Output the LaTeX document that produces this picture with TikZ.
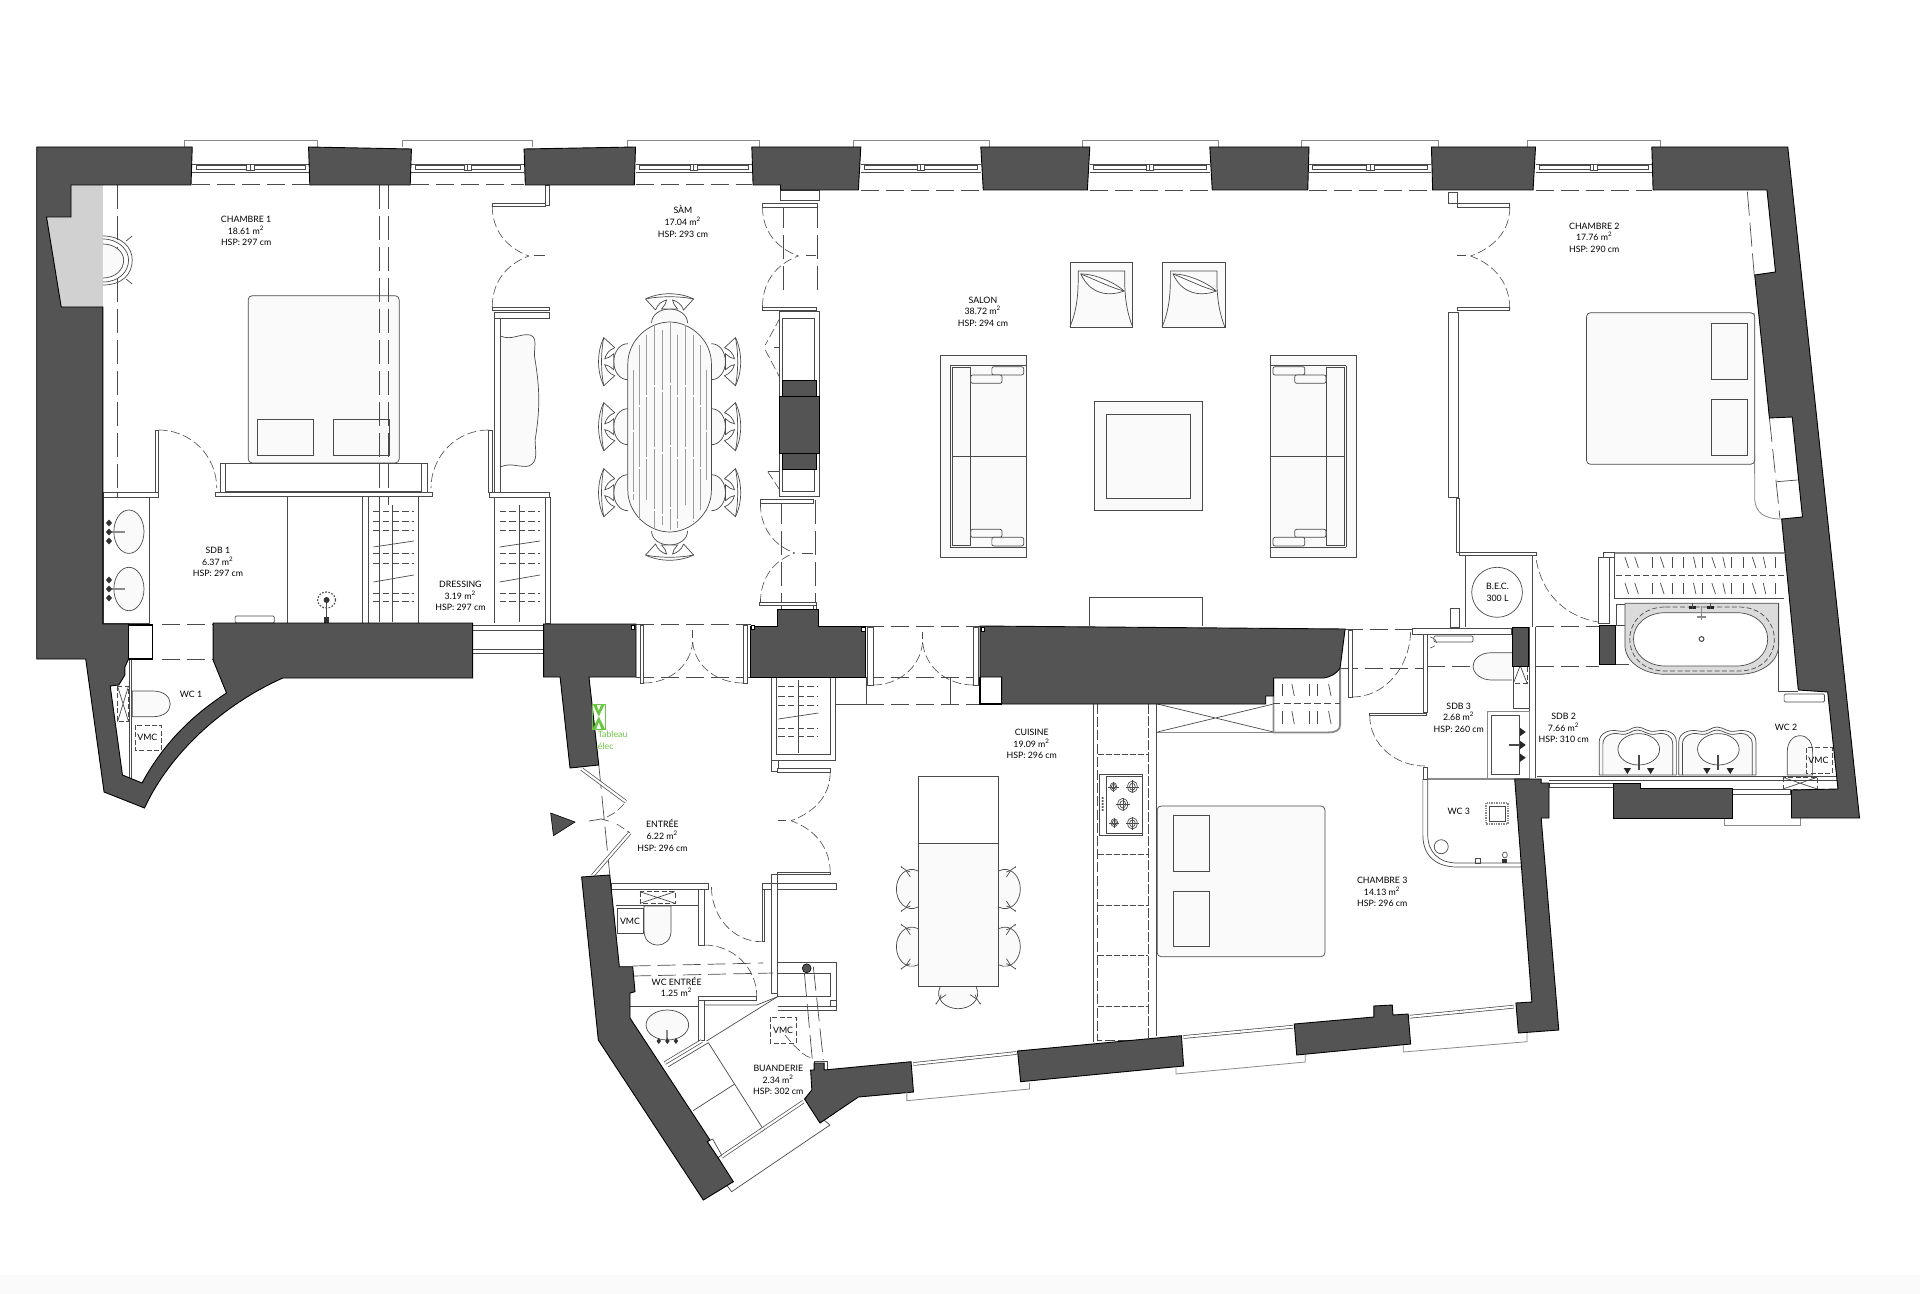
\documentclass[tikz,border=0pt]{standalone}
\usepackage{fontspec}
\setmainfont{Lato}
\usetikzlibrary{calc}
\definecolor{wallc}{HTML}{545454}
\definecolor{linec}{HTML}{4A4A4A}
\definecolor{greyl}{HTML}{8A8A8A}
\definecolor{furn}{HTML}{FAFAFA}
\definecolor{greenc}{HTML}{6CC644}
\tikzset{
 wall/.style={fill=wallc,draw=black,line width=.45pt,line join=miter},
 ln/.style={draw=linec,line width=.35pt},
 hv/.style={draw=linec,line width=.5pt},
 gl/.style={draw=greyl,line width=.4pt},
 gt/.style={draw=greyl,line width=.9pt},
 fu/.style={draw=linec,line width=.35pt,fill=furn},
 wh/.style={draw=linec,line width=.35pt,fill=white},
 dr/.style={draw=linec,line width=.3pt,dash pattern=on 4.5pt off 1.8pt},
 ld/.style={draw=linec,line width=.35pt,dash pattern=on 9pt off 3.5pt},
 lv/.style={draw=linec,line width=.35pt,dash pattern=on 12pt off 3.5pt},
 sd/.style={draw=linec,line width=.35pt,dash pattern=on 2.5pt off 1.2pt},
 obwin/.style={draw=linec,line width=.35pt,double=white,double distance=1.1pt},
 lab/.style={align=center,font=\fontsize{4.4}{5.8}\selectfont,text=black,inner sep=0pt},
 truepx/.style={x={(0.5pt,0pt)},y={(0pt,-0.5pt)}}
}
\newcommand{\topwin}[4]{%
 \pgfmathsetmacro{\wm}{(#1+#2)/2}%
 \draw[gl] (#3,147) -- (#3,140) -- (#4,140) -- (#4,147);
 \draw[ln] (#1,164) -- (#2,164) (#1,172.5) -- (#2,172.5);
 \draw[ln] (#1+3,165.5) rectangle (\wm-3,169.5) (\wm+3,165.5) rectangle (#2-3,169.5) (\wm-3,164) rectangle (\wm+3,170);
 \draw[ln] (\wm,164) -- (\wm,170);
}
\newcommand{\obwin}[2]{%
 \draw[obwin] #1 -- #2;
 \draw[obwin] ($#1!.48!#2$) -- ($#1!.52!#2$);
}
\newcommand{\chairbody}{%
  \draw[fu] (0,-18) .. controls (8,-18) and (14,-10) .. (14,0) .. controls (14,10) and (8,18) .. (0,18);
  \draw[wh] (13,-14) -- (24,-24) .. controls (31,-10) and (31,10) .. (24,24) -- (13,14) .. controls (19,12) and (22,7) .. (23,3) .. controls (20,3) and (18,5) .. (14,8) -- (14,-8) .. controls (18,-5) and (20,-3) .. (23,-3) .. controls (22,-7) and (19,-12) .. (13,-14);
  \draw[ln] (24,-24) .. controls (27,-10) and (27,10) .. (24,24);
}
\newcommand{\kchairbody}{%
  \draw[fu] (0,-18) .. controls (13,-24) and (22,-12) .. (22,0) .. controls (22,12) and (13,24) .. (0,18);
  \draw[ln] (8,-17) .. controls (12,-18) and (14,-20) .. (17,-22) (8,17) .. controls (12,18) and (14,20) .. (17,22);
  \draw[ln] (8,-12) -- (12,-18) (8,12) -- (12,18);
  \fill[linec] (17,-22) circle[radius=.8] (17,22) circle[radius=.8];
}
\newcommand{\chairS}[3]{\begin{scope}[shift={(#1,#2)},truepx,xscale=#3]\chairbody\end{scope}}
\newcommand{\chairV}[3]{\begin{scope}[shift={(#1,#2)},truepx,rotate=#3]\chairbody\end{scope}}
\newcommand{\kchair}[3]{\begin{scope}[shift={(#1,#2)},truepx,xscale=#3]\kchairbody\end{scope}}
\newcommand{\kchairV}[3]{\begin{scope}[shift={(#1,#2)},truepx,rotate=#3]\kchairbody\end{scope}}
\newcommand{\armchair}[1]{%
 \begin{scope}[xshift=#1*0.61224pt]
  \draw[fu] (873.7,262) rectangle (925,327);
  \draw[ln] (880.5,271) -- (918.5,271) -- (918.5,280) .. controls (918.5,300) and (921,315) .. (925,327);
  \draw[ln] (880.5,271) -- (880.5,280) .. controls (880.5,300) and (878,315) .. (873.7,327);
  \draw[wh] (882.7,274) .. controls (896,274) and (912,284) .. (918,291) .. controls (905,297) and (890,294) .. (882.7,274) -- cycle;
  \draw[ln] (882.7,274) .. controls (895,280) and (908,288) .. (918,291);
 \end{scope}}
\newcommand{\sofa}{%
  \draw[fu] (768,355.7) rectangle (838,557);
  \draw[ln] (776,365.7) -- (838,365.7) (776,547) -- (838,547) (776,365.7) -- (776,547);
  \draw[ln] (777.5,367.5) rectangle (792.7,545);
  \draw[ln] (777.5,456) -- (838,456);
  \draw[hv] (777.5,456) -- (792.7,456);
  \draw[fu,rounded corners=1pt] (810,366.7) rectangle (836,375);
  \draw[fu,rounded corners=1pt] (792.7,375) rectangle (818.3,383.3);
  \draw[fu,rounded corners=1pt] (792.7,529.3) rectangle (818.3,537.3);
  \draw[fu,rounded corners=1pt] (810,537.3) rectangle (836,546);
}
\newcommand{\hangers}[4]{% x1 x2 xc list
 \draw[ln] (#3,505) -- (#3,622);
 \foreach \yy in {#4}{\draw[sd,dash pattern=on 3.2pt off 1.6pt] (#1,\yy) -- (#2,\yy);}
 \draw[ln] (#1,547) -- (#2,541) (#1,582) -- (#2,575);
}
\begin{document}
\begin{tikzpicture}[x=0.61224pt,y=-0.5pt]
\useasboundingbox (0,0) rectangle (1568,1294);
\fill[white] (0,0) rectangle (1568,1294);
\fill[black!2] (0,1275) rectangle (1568,1294);

%%%%% Top windows and the dashed line of the openings
\topwin{157}{252}{150.7}{259}
\topwin{336}{428}{329}{434.7}
\topwin{519}{614}{512}{620}
\topwin{703}{801}{697}{807.7}
\topwin{890}{988}{883.7}{995}
\topwin{1069}{1169}{1062.6}{1175}
\topwin{1254}{1349}{1247}{1356}
\foreach \a/\b in {157/252,336/428,519/614}{\draw[ld] (\a,184.6) -- (\b,184.6);}
\foreach \a/\b in {703/801,890/988,1069/1169,1254/1349}{\draw[ld] (\a,190.5) -- (\b,190.5);}

%%%%% Chambre 1
\draw[lv] (96,185) -- (96,497);
\fill[black!18] (58,185) -- (84,185) -- (84,307) -- (50,307) -- (38,217) -- (58,217) -- cycle;
\draw[ln] (84,236) .. controls (100,236) and (108,248) .. (108,260) .. controls (108,274) and (100,285) .. (84,285);
\draw[ln] (84,239) .. controls (97,239) and (105,250) .. (105,260) .. controls (105,272) and (97,282) .. (84,282);
\draw[fu] (84,244) .. controls (94,244) and (101,252) .. (101,260) .. controls (101,270) and (94,278) .. (84,278);
\draw[ln] (103,241) -- (108,236) (103,279) -- (108,284);
\draw[fu,rounded corners=2pt] (202.7,295.7) rectangle (326,463);
\draw[fu] (210,419) rectangle (256,455);
\draw[fu] (272,419) rectangle (317.7,455);
\draw[lv] (309.5,185) -- (309.5,505) (317,185) -- (317,505);
% doors of chambre 1
\draw[wh] (127,430) rectangle (129.5,492);
\draw[wh] (399,430) rectangle (401.7,492);
\draw[dr] (129.5,430) to[out=0,in=90] (177,488);
\draw[dr] (399,430) to[out=180,in=90] (352,488);
\draw[wh] (84,492) rectangle (129,497);
\draw[ln] (96,492) -- (96,497);
\draw[wh] (176,492) rectangle (353,496.7);
\draw[ln] (180,463) -- (349,463) -- (349,492) (180,463) -- (180,492);
\draw[hv] (184.5,463) -- (184.5,491.7) -- (344.5,491.7) -- (344.5,463);
\draw[wh] (400,492) rectangle (449,497);
\draw[wh] (404,312) rectangle (408.7,492);
\draw[wh] (404,312) rectangle (449,318);
\draw[fu] (408.7,336) .. controls (418,341) and (425,333) .. (433,335) .. controls (440,338) and (435,350) .. (437,360) .. controls (441,390) and (441,410) .. (437,440) .. controls (437,450) and (440,462) .. (432,466) .. controls (425,468) and (417,462) .. (408.7,467) -- cycle;
% double door chambre 1 / sam
\draw[wh] (402,203) rectangle (445,206);
\draw[wh] (445,185) rectangle (449,205);
\draw[wh] (402,307) rectangle (449,310);
\draw[dr] (402,206) to[out=-90,in=160] (432,256);
\draw[dr] (402,307) to[out=90,in=200] (432,256);
\draw[hv] (436,256) -- (445,256);
% sdb 1
\draw[ln] (234.3,497) -- (234.3,623) (296,497) -- (296,623) (301,497) -- (301,623) (342,497) -- (342,623) (404,497) -- (404,623);
\draw[wh,rounded corners=.6pt] (192,616) rectangle (224,623);
\draw[ln,dash pattern=on .8pt off .8pt,line width=.6pt] (266.7,600) circle[x radius=7.3,y radius=8];
\draw[hv] (266.7,600) -- (266.7,620);
\fill[black!80] (266.7,600) circle[radius=1.5pt];
\fill[black!80] (264.5,617) rectangle (269,623);
% dressing hangers
\hangers{305}{338}{320.7}{511.7,521.7,530.7,553.3,563.3,593,601.7}
\hangers{408}{441}{424.3}{511.7,521.7,530.7,553.3,563.3,593,601.7}
\draw[ln] (310,505) -- (310,622);
\draw[wh] (445,497) rectangle (449.3,623);
\draw[wh] (386,625) rectangle (444,630);
\draw[wh] (386,649) rectangle (444,653);
%%%%% Sam
\chairS{512.7}{361.7}{-1}\chairS{512.7}{426.7}{-1}\chairS{512.7}{492.7}{-1}
\chairS{581}{361.7}{1}\chairS{581}{426.7}{1}\chairS{581}{492.7}{1}
\chairV{546.8}{323}{90}\chairV{546.8}{531}{-90}
\draw[fu] (512.7,364) .. controls (512.7,340) and (530,322) .. (546.8,322) .. controls (564,322) and (581,340) .. (581,364) -- (581,490) .. controls (581,514) and (564,532) .. (546.8,532) .. controls (530,532) and (512.7,514) .. (512.7,490) -- cycle;
\foreach \xx/\ya/\yb in {517/370/500,522/345/520,528/335/500,534/325/528,541/330/525,547/323/530,553/335/528,560/325/505,566/335/522,572/345/510,577/370/480}{\draw[draw=black!38,line width=.25pt,dash pattern=on 30pt off 1pt] (\xx,\ya) -- (\xx,\yb);}
% cupboards right of sam
\draw[lv] (640,204) -- (640,296) (667.7,204) -- (667.7,296);
\draw[lv] (638,500) -- (638,623) (666,500) -- (666,623);
\draw[wh] (622.7,203) rectangle (667.7,207);
\draw[wh] (637,190) rectangle (669,200);
\draw[wh] (622.7,307) rectangle (667,310);
\draw[dr] (622.7,207) to[out=-90,in=160] (652,256);
\draw[dr] (622.7,307) to[out=90,in=200] (652,256);
\draw[hv] (658,256) -- (666,256);
\draw[wh] (636.7,311.7) rectangle (669.3,496.7);
\draw[ln] (639.3,318) rectangle (665,491.7);
\draw[dr] (637,318) -- (625,345) (625,350) -- (637,378);
\draw[hv] (632,348) -- (637,348);
\draw[ln] (627,471.7) -- (637,471.7);
\draw[dr] (627,471.7) -- (637.7,491.7);
\draw[wall] (639.3,380.7) rectangle (667,396);
\draw[wall] (636.7,396) rectangle (669.3,453);
\draw[wall] (639.3,453) rectangle (667,469);
\draw[wh] (621,499) rectangle (664.3,503.3);
\draw[dr] (621,503.3) to[out=-90,in=160] (649,553);
\draw[hv] (655,553) -- (664,553);
\draw[dr] (621,603) to[out=90,in=200] (649,553);
\draw[wh] (620,602) rectangle (667,605);
\draw[wh] (664,605) rectangle (667,609);

%%%%% Salon
\armchair{0}\armchair{75.3}
\sofa
\begin{scope}[shift={(1875.6,0)},xscale=-1]\sofa\end{scope}
\draw[fu] (893.3,401.7) rectangle (982,510.7);
\draw[wh,fill=furn] (903.3,414) rectangle (972,498);
\draw[ln] (890,626) -- (890,597) -- (982,597) -- (982,626);

%%%%% horizontal dashed lines through the openings
\draw[ld] (132,624) -- (174,624) (132,659) -- (174,659);
\draw[ld] (519,624) -- (613,624) (519,677) -- (613,677);
\draw[ld] (707,626) -- (800,626) (707,677) -- (800,677) (707,704) -- (800,704);
\draw[ld] (1098,629) -- (1155,629) (1094,668) -- (1165,668);
\draw[ld] (1165,666.7) -- (1204,666.7);
\draw[ld] (1254,626) -- (1306,626) (1254,666) -- (1306,666);
\draw[ld] (1319.6,664.7) -- (1330,664.7);

%%%%% doors between salon and entry/kitchen
\draw[wh] (522.7,625) rectangle (525.5,683);
\draw[wh] (607,625) rectangle (610,683);
\draw[dr] (525.5,683) to[out=0,in=-95] (565.7,642);
\draw[dr] (607,683) to[out=180,in=-85] (565.7,642);
\draw[hv] (565.7,630) -- (565.7,638);
\draw[wh] (708,627) rectangle (713,685);
\draw[wh] (795,627) rectangle (799,685);
\draw[dr] (713,685) to[out=0,in=-95] (753.5,642);
\draw[dr] (795,685) to[out=180,in=-85] (753.5,642);
\draw[hv] (753.5,632) -- (753.5,639);
\draw[ln] (776.4,677) -- (776.4,704);
\draw[hv] (707.5,677) -- (707.5,704) -- (683,704);

%%%%% closet under the pillar
\draw[ln] (630,677) -- (630,760) -- (682.5,760) -- (682.5,677);
\draw[ln] (634,677) -- (634,754) -- (678,754) -- (678,677);
\draw[ln] (652.3,680) -- (652.3,753);
\foreach \yy in {686.7,696.7,705,728,736.7}{\draw[sd,dash pattern=on 3.2pt off 1.6pt] (635.7,\yy) -- (668.4,\yy);}
\draw[ln] (635.7,719) -- (668.4,713);
\draw[wh] (630,760) rectangle (635.7,771);
\draw[wh] (635,768) rectangle (678,772);
\draw[dr] (678,772) to[out=-90,in=20] (646,820.7);
\draw[dr] (678,873) to[out=90,in=-20] (646,820.7);
\draw[hv] (635,820.7) -- (642,820.7);
\draw[wh] (635,872) rectangle (678,874.5);

%%%%% Entree, wc entree
\draw[wh] (630,874.5) rectangle (635,883);
\draw[wh] (635,883) rectangle (683,889);
\draw[wh] (622.6,883) rectangle (630,889);
\draw[wh] (630,883) rectangle (635,993);
\draw[wh] (622.6,889) rectangle (624.4,941.7);
\draw[wh] (499.5,883) rectangle (578.5,889);
\draw[hv] (503,905) -- (570,905);
\draw[sd] (522.6,891.7) rectangle (551.2,903.3);
\draw[ln] (522.6,891.7) -- (551.2,903.3) (522.6,903.3) -- (551.2,891.7);
\draw[wh] (570.3,889) rectangle (575,945);
\draw[wh] (504,908) rectangle (525,933);
\draw[fu] (526,906) -- (548,906) -- (548,931) .. controls (548,940) and (543,945) .. (537,945) .. controls (531,945) and (526,940) .. (526,931) -- cycle;
\draw[dr] (581,887) to[out=-90,in=180] (622,941.7);
\draw[dr] (575,945) to[out=0,in=90] (618,996);
\draw[ld] (516.7,966) -- (623.4,963) (517,976) -- (631.5,973);
\draw[ln] (514.5,1006) -- (570,1006);
\draw[wh] (570,996) rectangle (618,1000);
\draw[wh] (570,1000) rectangle (575,1040);
\draw[ln] (635,993) -- (635,996.7) -- (618,1005) -- (575,1005);
\draw[ln] (635,996.7) -- (577,1041);
\draw[obwin] (543,1063) -- (573,1041);
\draw[fu] (545,1025) circle[x radius=17.4,y radius=15];
\draw[gt] (545,1030) -- (545,1043);
\foreach \xx in {538,545,552}{\fill[black!80] (\xx,1041) ++(0,-3) -- ++(1.8,3) -- ++(-1.8,3) -- ++(-1.8,-3) -- cycle;}
% right box with column
\draw[ln] (635,962) -- (682.7,962) -- (682.7,1005) (635,973) -- (678,973) -- (678,996.7) -- (635,996.7);
\draw[ln] (635,1006) -- (682.7,1006) -- (682.7,1010) -- (635,1010);
\draw[wh] (678,1000) rectangle (682.7,1006);
\fill[wallc,draw=black,line width=.3pt] (658.8,968.3) circle[x radius=3.6,y radius=4.5];
\draw[lv] (656.9,973) -- (663.4,1060) (664.2,966.7) -- (672.4,1060);
\draw[sd] (629,1017) rectangle (650,1043);
\draw[dr] (641,1035) -- (648,1045) to[out=-40,in=170] (663.4,1058);
% buanderie machines
\draw[ln] (578.5,1042.7) -- (622,1126.7) (600,1084) -- (566,1110.7) (545.8,1066.7) -- (578.5,1042.7);
\obwin{(589.3,1156.7)}{(656,1101.7)}
\draw[wh] (577.6,1141.7) -- (582,1139) -- (589.3,1155) -- (586,1158) -- cycle;
\draw[ln] (593.4,1185) -- (597.5,1191.7) -- (677.8,1125) -- (671,1118);
\draw[wh] (665,1061) rectangle (676,1070);

%%%%% entry door
\draw[lv] (489,765) -- (498,875);
\draw[obwin] (475,769) -- (511,801.7);
\draw[obwin] (514.5,832.7) -- (484,875.7);
\draw[dr] (509.6,804) -- (503,812) -- (492.8,819);
\draw[dr] (503.7,824) -- (514.5,832.7);
\draw[ln] (481,821) -- (491,819) (491,819) -- (497,821);
\fill[wallc,draw=black,line width=.3pt] (449.7,813) -- (469.6,822) -- (452,835.7) -- cycle;

%%%%% Cuisine
\draw[fu,fill=white] (750,776.7) rectangle (815.3,843);
\kchair{750}{889}{-1}\kchair{750}{946.7}{-1}\kchair{815.3}{889}{1}\kchair{815.3}{946.7}{1}
\kchairV{782.5}{986.7}{-90}
\draw[fu] (750,843) rectangle (815.3,986.7);
\draw[ln] (893,704) -- (893,1042);
\draw[draw=linec,line width=.4pt,dash pattern=on 5pt off 1.6pt] (896.4,704) -- (896.4,1040) -- (937.6,1040);
\draw[draw=linec,line width=.4pt,dash pattern=on 5pt off 1pt] (937.6,704) -- (937.6,1038);
\draw[ln] (944.7,704) -- (944.7,1036);
\foreach \yy in {754.3,854.3,905,955.7,1006}{\draw[sd,dash pattern=on 3pt off 1pt] (896.4,\yy) -- (937.6,\yy);}
\draw[wh] (898,774.3) rectangle (933.2,835);
\draw[ln] (903.2,776) rectangle (933.2,833);
\foreach \xx/\yy/\rr in {909.3/786.7/3.2,924.8/786.7/4.6,916.9/804.3/4.8,910/822.7/3.2,924.8/823.3/4.6}{
 \draw[ln] (\xx,\yy) circle[x radius=\rr*.85,y radius=\rr*1.25];
 \draw[ln] (\xx,\yy) circle[x radius=\rr*.5,y radius=\rr*.75];
 \draw[draw=linec,line width=.2pt] (\xx-\rr-1,\yy) -- (\xx+\rr+1,\yy) (\xx,\yy-\rr-2) -- (\xx,\yy+\rr+2);
}
\foreach \yy in {798,801,804,807,810}{\draw[ln] (900.5,\yy) circle[radius=.6];}
% X-box and closet
\draw[gt,line width=.6pt] (945.2,732.4) -- (1040,732.4);
\draw[ln] (945.2,704) -- (1040,732) (945.2,732) -- (1040,704);
\draw[gt] (1040,678) -- (1040,732.4) -- (1085,732.4) .. controls (1091,732.4) and (1094.4,730) .. (1094.4,725) -- (1094.4,668);
\draw[ld,dash pattern=on 3.5pt off 1.6pt] (1040,703.7) -- (1094,703.7);
\foreach \xx/\d in {1047/0,1055/2,1069/0,1076/0,1085/2}{\draw[ln] (\xx,684) -- (\xx+\d,696) (\xx,711) -- (\xx+\d,724);}
% sofa-side door
\draw[wh] (1101,630) rectangle (1104,697);
\draw[dr] (1104,697) to[out=0,in=-90] (1152,630);
\draw[wh] (1118.6,713) rectangle (1165,715.5);
\draw[dr] (1118.6,715.5) to[out=-90,in=180] (1163.6,766);

%%%%% Chambre 3
\draw[fu,rounded corners=2pt] (945,806) rectangle (1082,956.7);
\draw[fu] (958.3,815.7) rectangle (987.4,871.7);
\draw[fu] (958.3,891.3) rectangle (987.4,946.7);

%%%%% Chambre 2
\draw[lv] (1427,191.7) -- (1432.6,275);
\draw[lv] (1445,418) -- (1453.6,518);
\draw[ln] (1451,481.7) -- (1468,480);
\draw[gl] (1432.6,313) -- (1433,500) .. controls (1434,512) and (1440,519) .. (1455,519);
\draw[fu,rounded corners=2pt] (1295.6,312.7) rectangle (1433,464.3);
\draw[fu] (1397.6,323.3) rectangle (1427.3,379.3);
\draw[fu] (1397.6,399.3) rectangle (1427.3,455);
\draw[wh] (1190,203) rectangle (1233,207);
\draw[wh] (1183,192) rectangle (1190,203);
\draw[dr] (1233,207) to[out=-90,in=20] (1201,256);
\draw[dr] (1233,309) to[out=90,in=-20] (1201,256);
\draw[hv] (1190,256) -- (1197,256);
\draw[wh] (1190,307) rectangle (1233,310);
\draw[wh] (1183,312.3) rectangle (1191,497.7);
\draw[wh] (1189,498) rectangle (1192,552);

%%%%% BEC
\draw[wh] (1192,552) rectangle (1255,555);
\draw[ln] (1197,555) -- (1197,627) (1251,555) -- (1251,627);
\draw[wh] (1222.6,592.3) circle[x radius=20.7,y radius=25];
\draw[ln] (1184.6,608) rectangle (1192,627);

%%%%% SDB 3
\draw[wh] (1153.6,628) rectangle (1234.6,634);
\draw[wh,rounded corners=.6pt] (1171,636) rectangle (1203,642);
\draw[dr] (1168,637) .. controls (1175,640) and (1175,645) .. (1168,648);
\draw[wh] (1162,634) rectangle (1166,712);
\draw[fu] (1234.6,652.7) -- (1218,652.7) .. controls (1208,652.7) and (1203,660) .. (1203,666) .. controls (1203,674) and (1210,680) .. (1218,680) -- (1234.6,680);
\draw[sd] (1236,648) rectangle (1247,683);
\draw[ln] (1236,648) -- (1247,683) (1236,683) -- (1247,648);
\draw[ln] (1248.6,627) -- (1248.6,778) (1253.6,627) -- (1253.6,778);
\draw[ln] (1236,666) -- (1236,708) -- (1248.6,708);
\draw[gl] (1214.6,711) rectangle (1248.6,778);
\draw[ln] (1218,715.5) rectangle (1241,774);
\draw[ln,line width=.8pt] (1232,745) -- (1245,745);
\foreach \yy in {732,745,757.7}{\fill[black!85] (1241.5,\yy-4) -- (1246,\yy) -- (1241.5,\yy+4) -- cycle;}
% WC 3
\draw[wh] (1162,767) -- (1166,767) -- (1166,779) -- (1162,779) -- cycle;
\draw[gt] (1166,779) -- (1237,779);
\draw[ln] (1162,779) -- (1162,835) .. controls (1162,855) and (1172,867) .. (1190,867) -- (1243,867);
\draw[ln] (1166,779) -- (1166,835) .. controls (1166,852) and (1175,863) .. (1190,863) -- (1243,863);
\draw[gt,dash pattern=on .7pt off .5pt] (1213.6,802.7) rectangle (1231.3,824);
\draw[ln] (1216,806) rectangle (1229,821);
\draw[ln] (1177,846.7) circle[x radius=5.7,y radius=7];
\draw[ln] (1205,858) rectangle (1209,863);
\draw[ln] (1229,855) circle[x radius=2,y radius=3];
\fill[black!80] (1227,859) rectangle (1231,863);

%%%%% SDB 2 - closet and bath
\draw[gt] (1310,553) -- (1457,553);
\draw[ln] (1318.6,553) -- (1318.6,598) -- (1457,598);
\draw[wh] (1305,557) rectangle (1314,623);
\draw[wh] (1309,552) rectangle (1318.6,557);
\draw[ln,dash pattern=on 3pt off 1.5pt] (1320,575) -- (1460,575);
\foreach \xx/\d in {1327/3,1335/3,1349/0,1356/3,1366/0,1375/0,1383/2,1390/0,1398/3,1407/2,1414/0,1424/0,1431/3,1440/2,1450/0}{\draw[ln] (\xx,557) -- (\xx+\d,568) (\xx,583) -- (\xx+\d,594);}
\draw[dr] (1254.6,560) to[out=-80,in=170] (1305,622);
\draw[wh] (1319.6,604) rectangle (1327,625);
\fill[black!14] (1327,603.3) -- (1452.6,603.3) -- (1452.6,645) .. controls (1452.6,662) and (1438,674.3) .. (1420,674.3) -- (1360,674.3) .. controls (1342,674.3) and (1327,662) .. (1327,645) -- cycle;
\draw[ln] (1327,603.3) -- (1452.6,603.3) (1452.6,603.3) -- (1452.6,645) .. controls (1452.6,662) and (1438,674.3) .. (1420,674.3) -- (1360,674.3) .. controls (1342,674.3) and (1327,662) .. (1327,645) -- (1327,603.3);
\draw[sd] (1360,607) -- (1420,607) .. controls (1438,607) and (1449,622) .. (1449,639) .. controls (1449,657) and (1438,671) .. (1420,671) -- (1360,671) .. controls (1342,671) and (1331,657) .. (1331,639) .. controls (1331,622) and (1342,607) .. (1360,607);
\draw[fu,fill=white] (1360,612.7) -- (1418,612.7) .. controls (1433,612.7) and (1443.6,624) .. (1443.6,639) .. controls (1443.6,654) and (1433,666) .. (1418,666) -- (1360,666) .. controls (1345,666) and (1334,654) .. (1334,639) .. controls (1334,624) and (1345,612.7) .. (1360,612.7) -- cycle;
\draw[ln,line width=.5pt] (1389.6,639) circle[radius=1.2pt];
\draw[gt] (1389.6,606) -- (1389.6,620) (1386,617) -- (1393,617);
\foreach \xx in {1382,1397}{\fill[black!85] (\xx-3,606) rectangle (\xx+3,609); \draw[hv] (\xx,603) -- (\xx,609);}
\draw[ln] (1452.6,603.3) -- (1452.6,691.7) -- (1468.6,691.7);
\draw[wh,rounded corners=.6pt] (1457,694) rectangle (1490,702);
% washbasins
\foreach \dx in {0,65}{
 \begin{scope}[xshift=\dx*0.61224pt]
 \draw[fu] (1306,775) -- (1306,742) .. controls (1306,733) and (1314,729) .. (1322,731) .. controls (1330,733) and (1332,727) .. (1337,727) .. controls (1343,727) and (1345,733) .. (1353,731) .. controls (1362,729) and (1369,733) .. (1369,742) -- (1369,775) -- cycle;
 \draw[ln] (1309,775) -- (1309,744) .. controls (1309,736) and (1316,732) .. (1323,734) .. controls (1330,736) and (1332,730) .. (1337,730) .. controls (1343,730) and (1345,736) .. (1353,734) .. controls (1360,732) and (1366,736) .. (1366,744) -- (1366,775);
 \draw[wh] (1338.3,749.3) circle[x radius=17,y radius=15.7];
 \draw[draw=linec,line width=1pt] (1338.3,755) -- (1338.3,770);
 \foreach \xx in {1329,1348}{\fill[black!85] (\xx-3,768) -- (\xx+3,768) -- (\xx,774) -- cycle;}
 \end{scope}}
\draw[hv] (1255,776) -- (1501,776);
\draw[ln] (1265,780) -- (1501,780);
\draw[wh] (1265,783) rectangle (1318,787);
\draw[wh] (1415,789) rectangle (1462,794);
\draw[gl] (1408.6,818) -- (1408.6,825.7) -- (1470,825.7) -- (1470,818);
% wc2
\draw[fu] (1459.6,775) -- (1459.6,752) .. controls (1459.6,742) and (1464,735.7) .. (1470,735.7) .. controls (1476,735.7) and (1480.3,742) .. (1480.3,752) -- (1480.3,775) -- cycle;
\draw[sd] (1475.3,747.7) rectangle (1496.3,773.3);
\draw[sd] (1456,777.3) rectangle (1484,789);
\draw[ln] (1456,777.3) -- (1484,789) (1456,789) -- (1484,777.3);

%%%%% SDB 1 vanity
\draw[wh] (84,497) rectangle (121.7,623);
\draw[fu] (105.3,531.7) circle[x radius=12.3,y radius=21.7];
\draw[fu] (105.3,589) circle[x radius=12.3,y radius=21.7];
\foreach \yy in {532,589}{
 \draw[gt] (89,\yy) -- (102,\yy);
 \foreach \dd in {-9,0,9}{\fill[black!80] (89,\yy+\dd) ++(0,-3.5) -- ++(2.5,3.5) -- ++(-2.5,3.5) -- ++(-2.5,-3.5) -- cycle;}
}
%%%%% WC 1
\draw[ln] (105.7,660) -- (105.7,778);
\draw[ln] (107,660) -- (107,778);
\draw[sd] (96,686) rectangle (105,721.7);
\draw[ln] (96,686) -- (105,721.7) (96,721.7) -- (105,686);
\draw[fu] (108,691) -- (125,691) .. controls (134,691) and (139,697) .. (139,704) .. controls (139,711) and (134,716.7) .. (125,716.7) -- (108,716.7) -- cycle;
\draw[sd] (110.7,725) rectangle (131.7,750.7);

%%%%% Walls
\draw[wall] (30,147) -- (157,147) -- (156,185) -- (58,185) -- (58,217) -- (38,217) -- (50,307) -- (84,307) -- (84,624) -- (105,624) -- (105,659) -- (102,667) -- (102,675) -- (97,685) -- (90,686) -- (100,775) -- (116,783) .. controls (135,740) and (160,713) .. (185,693) -- (174,660) -- (174,623) -- (386,623) -- (386,678) -- (231,678) .. controls (185,703) and (140,750) .. (118,808) -- (85,792) -- (70,659) -- (30,659) -- cycle;
\draw[draw=black,line width=.6pt,fill=white] (105,625) rectangle (124.5,659);
\draw[wall] (252,147) -- (336,149) -- (335,185) -- (253,185) -- cycle;
\draw[wall] (428,149) -- (519,147) -- (518,185) -- (429,185) -- cycle;
\draw[wall] (614,147) -- (703,147) -- (701,190) -- (637.5,190) -- (637.5,185) -- (615,185) -- cycle;
\draw[wall] (801,147) -- (890,147) -- (888,190) -- (803,190) -- cycle;
\draw[wall] (988,147) -- (1069,147) -- (1068,190) -- (990,190) -- cycle;
\draw[wall] (1169,147) -- (1254,147) -- (1252,190) -- (1170,190) -- cycle;
\draw[wall] (1349,147) -- (1460,147) -- (1518.6,818) -- (1463,818) -- (1463,790) -- (1501,789) -- (1492.6,692) -- (1468.6,690) -- (1455,519) -- (1472,517) -- (1463.6,417) -- (1445,418) -- (1433,275) -- (1450,272) -- (1443,190) -- (1350,190) -- cycle;
\draw[wall] (1318,783) -- (1340,783) -- (1340,788) -- (1415,788) -- (1415,818) -- (1318,818) -- cycle;
\draw[wall] (1237,779) -- (1258.6,779) -- (1258.6,783) -- (1265,783) -- (1265,818) -- (1258.6,818) -- (1273,1030) -- (1240,1033) -- (1238,1003) -- (1251,1002) -- cycle;
\draw[wall] (1057,1024) -- (1122,1017) -- (1122,1006) -- (1137,1005) -- (1137.6,1015) -- (1150,1014) -- (1152,1044) -- (1059,1055) -- cycle;
\draw[wall] (831,1051) -- (964.8,1035.7) -- (966.6,1066) -- (833.5,1081.7) -- cycle;
\draw[wall] (744,1061.7) -- (746,1092) -- (701,1097) -- (669.7,1123) -- (657,1099) -- (663,1090) -- (662,1070) -- (664.8,1070) -- (664.8,1063) -- (673,1063) -- (673,1070) -- cycle;
\draw[wall] (475,877) -- (498,875) -- (505.8,966.7) -- (516.7,966.7) -- (518.6,991.7) -- (514.5,993) -- (514.5,1018) -- (579.8,1140) -- (577.6,1141.7) -- (586.6,1158) -- (598.9,1181.7) -- (574.4,1200) -- (488.6,1040) -- cycle;
\draw[wall] (444,624) -- (519.4,624) -- (519.4,677) -- (481,677) -- (489,765) -- (465.5,768) -- (457.4,677) -- (444,677) -- cycle;
\draw[wall] (613,626) -- (635,626) -- (635,609) -- (668,609) -- (668,626) -- (707,626) -- (707,677) -- (613,677) -- cycle;
\draw[wall] (800.4,626) -- (1098.5,629) -- (1094.4,668) .. controls (1092,673) and (1087,677) .. (1081,678) -- (1040,678) -- (1040,696) -- (1033.7,696) -- (1033.7,704) -- (818,704) -- (818,677) -- (800.4,677) -- cycle;
\draw[draw=black,line width=.6pt] (800.4,677) -- (800.4,704) -- (818,704);
\draw[wall] (1235,627) rectangle (1248.6,666);
\draw[wall] (1306,625.7) rectangle (1319.6,664);
\foreach \xx/\yy in {516.7/627,614.7/627.6,705/629,802.5/629}{\draw[draw=black,fill=white,line width=.25pt] (\xx-1.5,\yy-2) rectangle (\xx+1.5,\yy+2);}

%%%%% Bottom windows
\obwin{(746,1064)}{(830,1053)}
\draw[gl] (740.6,1092) -- (740.6,1100.7) -- (840.8,1089) -- (840.8,1083);
\obwin{(966.6,1037)}{(1056,1026.7)}
\draw[gl] (960.4,1066.7) -- (960.4,1074) -- (1066,1062) -- (1066,1055);
\obwin{(1151.4,1016.7)}{(1236,1006.7)}
\draw[gl] (1146,1045) -- (1146,1052) -- (1247,1041.7) -- (1247,1033);

%%%%% Electric panel
\draw[draw=greenc,line width=.35pt] (484,704) rectangle (494,729);
\fill[greenc] (484,704) -- (489,716.5) -- (494,704) -- (491,704) -- (489,711) -- (487,704) -- cycle;
\fill[greenc] (484,729) -- (489,716.5) -- (494,729) -- (491,729) -- (489,722) -- (487,729) -- cycle;
\node[lab,text=greenc,anchor=west] (tab1) at (488,734) {Tableau};
\node[lab,text=greenc,anchor=west] (tab2) at (488,746) {élec};

%%%%% Labels
\node[lab] (ch1) at (201,231) {CHAMBRE 1\\18.61 m\textsuperscript{2}\\HSP: 297 cm};
\node[lab] (sdb1) at (178,562) {SDB 1\\6.37 m\textsuperscript{2}\\HSP: 297 cm};
\node[lab] (dress) at (376,596) {DRESSING\\3.19 m\textsuperscript{2}\\HSP: 297 cm};
\node[lab] (wc1) at (156,694) {WC 1};
\node[lab] (vmc1) at (120.3,737) {VMC};
\node[lab] (sam) at (557.7,221.5) {SÀM\\17.04 m\textsuperscript{2}\\HSP: 293 cm};
\node[lab] (salon) at (802.7,311.5) {SALON\\38.72 m\textsuperscript{2}\\HSP: 294 cm};
\node[lab] (ch2) at (1302,237.5) {CHAMBRE 2\\17.76 m\textsuperscript{2}\\HSP: 290 cm};
\node[lab] (bec) at (1223,592.5) {B.E.C.\\300 L};
\node[lab] (sdb3) at (1191.3,717.5) {SDB 3\\2.68 m\textsuperscript{2}\\HSP: 260 cm};
\node[lab] (sdb2) at (1277,728) {SDB 2\\7.66 m\textsuperscript{2}\\HSP: 310 cm};
\node[lab] (wc2) at (1458.6,727.7) {WC 2};
\node[lab] (vmc2) at (1485,760.7) {VMC};
\node[lab] (wc3) at (1191.3,811.7) {WC 3};
\node[lab] (cuis) at (842.6,744) {CUISINE\\19.09 m\textsuperscript{2}\\HSP: 296 cm};
\node[lab] (ch3) at (1128.8,892) {CHAMBRE 3\\14.13 m\textsuperscript{2}\\HSP: 296 cm};
\node[lab] (entr) at (541,835.5) {ENTRÉE\\6.22 m\textsuperscript{2}\\HSP: 296 cm};
\node[lab] (wce) at (552.6,987) {WC ENTRÉE\\1.25 m\textsuperscript{2}};
\node[lab] (vmc3) at (514.5,921) {VMC};
\node[lab] (vmc4) at (639.5,1030) {VMC};
\node[lab] (buan) at (635.6,1080) {BUANDERIE\\2.34 m\textsuperscript{2}\\HSP: 302 cm};
\end{tikzpicture}
\end{document}
